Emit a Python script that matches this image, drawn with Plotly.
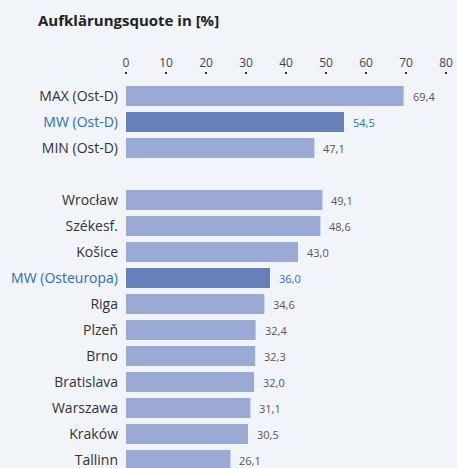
import plotly.graph_objects as go

# Data
labels = ["MAX (Ost-D)", "MW (Ost-D)", "MIN (Ost-D)", "",
          "Wrocław", "Székesf.", "Košice", "MW (Osteuropa)", "Riga",
          "Plzeň", "Brno", "Bratislava", "Warszawa", "Kraków", "Tallinn"]
values = [69.4, 54.5, 47.1, None,
          49.1, 48.6, 43.0, 36.0, 34.6,
          32.4, 32.3, 32.0, 31.1, 30.5, 26.1]
highlight = ["MW (Ost-D)", "MW (Osteuropa)"]
x_ticks = [0, 10, 20, 30, 40, 50, 60, 70, 80]

BG = "#f1f4f9"
LIGHT = "#9aaad4"
DARK = "#6780b9"
BLUE = "#2f6db3"
FONT = "Open Sans, Lato, sans-serif"

idx = list(range(len(labels)))
bar_colors = [DARK if l in highlight else LIGHT for l in labels]

fig = go.Figure()
fig.add_trace(go.Bar(
    x=values, y=idx, orientation="h",
    marker=dict(color=bar_colors, line=dict(width=0)),
    hoverinfo="skip",
))

# value labels
for i, (l, v) in enumerate(zip(labels, values)):
    if v is None:
        continue
    fig.add_annotation(
        x=v, y=i, xref="x", yref="y",
        text=f"{v:.1f}".replace(".", ","),
        showarrow=False, xanchor="left", xshift=7,
        font=dict(size=11, color=BLUE if l in highlight else "#555555", family=FONT),
    )

tick_text = [f"<span style='color:{BLUE}'>{l}</span>" if l in highlight else l
             for l in labels]

fig.update_layout(
    width=457, height=468,
    paper_bgcolor=BG, plot_bgcolor=BG,
    margin=dict(l=126, r=11, t=75, b=0, autoexpand=False),
    bargap=0.23,
    showlegend=False,
    title=dict(text="<b>Aufklärungsquote in [%]</b>", x=38 / 457, xanchor="left",
               xref="container", y=1 - 21 / 468, yref="container", yanchor="middle",
               font=dict(size=15, color="#222222", family=FONT)),
    font=dict(family=FONT, color="#333333"),
    xaxis=dict(
        side="top", range=[0, 80], tickvals=x_ticks,
        showgrid=False, zeroline=False, showline=False,
        ticks="outside", ticklen=2, tickwidth=2, tickcolor="#333333",
        tickfont=dict(size=12, color="#444444"),
        automargin=False, ticklabeloverflow="allow",
        fixedrange=True,
    ),
    yaxis=dict(
        range=[14 + 8 / 26, -21 / 26], tickvals=idx, ticktext=tick_text,
        showgrid=False, zeroline=False, showline=False,
        ticks="", ticklabelstandoff=7,
        tickfont=dict(size=14, color="#333333"),
        automargin=False, ticklabeloverflow="allow",
        fixedrange=True,
    ),
)

# drop the browser's default body margin so the figure sits at the page corner
fig.write_html("out.html", config={"displayModeBar": False},
               post_script="document.body.style.margin='0';")
